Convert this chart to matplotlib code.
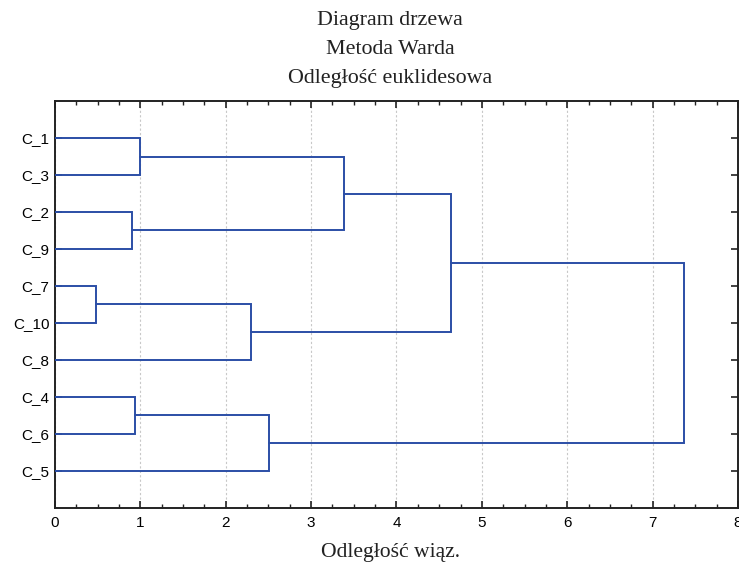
import numpy as np
import matplotlib.pyplot as plt
from matplotlib.ticker import MultipleLocator

# leaf order top to bottom
leaves = ['C_1', 'C_3', 'C_2', 'C_9', 'C_7', 'C_10', 'C_8', 'C_4', 'C_6', 'C_5']
# merges: (left node, right node, linkage distance)
merges = [
    ('C_1', 'C_3', 0.99),
    ('C_2', 'C_9', 0.90),
    (0, 1, 3.38),
    ('C_7', 'C_10', 0.48),
    (3, 'C_8', 2.30),
    (2, 4, 4.64),
    ('C_4', 'C_6', 0.94),
    (6, 'C_5', 2.51),
    (5, 7, 7.37),
]
xticks = [0, 1, 2, 3, 4, 5, 6, 7, 8]
title_lines = ['Diagram drzewa', 'Metoda Warda', 'Odległość euklidesowa']

line_col = '#2b4ea6'
W, H = 739, 563

fig = plt.figure(figsize=(W / 100, H / 100), dpi=100)
ax = fig.add_axes([0.0744, 0.0977, 0.9242, 0.7229])

pos = {name: (0.0, i + 1) for i, name in enumerate(leaves)}
for k, (a, b, h) in enumerate(merges):
    xa, ya = pos[a]
    xb, yb = pos[b]
    ax.plot([xa, h, h, xb], [ya, ya, yb, yb], color=line_col, lw=1.4,
            solid_joinstyle='miter', zorder=3)
    pos[k] = (h, (ya + yb) / 2)

ax.set_xlim(0, 8)
ax.set_ylim(11, 0)
ax.set_xticks(xticks)
ax.xaxis.set_minor_locator(MultipleLocator(0.25))
ax.set_yticks(range(1, len(leaves) + 1))
ax.set_yticklabels(leaves)

ax.grid(axis='x', which='major', color='#c8c8c8', ls=(0, (2, 2)), lw=0.8)
ax.tick_params(which='both', direction='in', top=True, right=True,
               color='#222222', labelsize=11)
ax.tick_params(which='major', length=5, width=1.2)
ax.tick_params(which='minor', length=3, width=1.0)
ax.tick_params(axis='x', pad=6)
ax.tick_params(axis='y', pad=4)
for lbl in ax.get_xticklabels() + ax.get_yticklabels():
    lbl.set_family('Liberation Sans')
for s in ax.spines.values():
    s.set_linewidth(1.4)
    s.set_color('#222222')

fig.text(0.528, 1 - 557 / H, 'Odległość wiąz.', ha='center', va='baseline',
         family='Liberation Serif', fontsize=15.6, color='#222222')
for i, t in enumerate(title_lines):
    fig.text(0.528, 1 - (25 + 29 * i) / H, t, ha='center', va='baseline',
             family='Liberation Serif', fontsize=15.8, color='#222222')

plt.savefig('out.png')
